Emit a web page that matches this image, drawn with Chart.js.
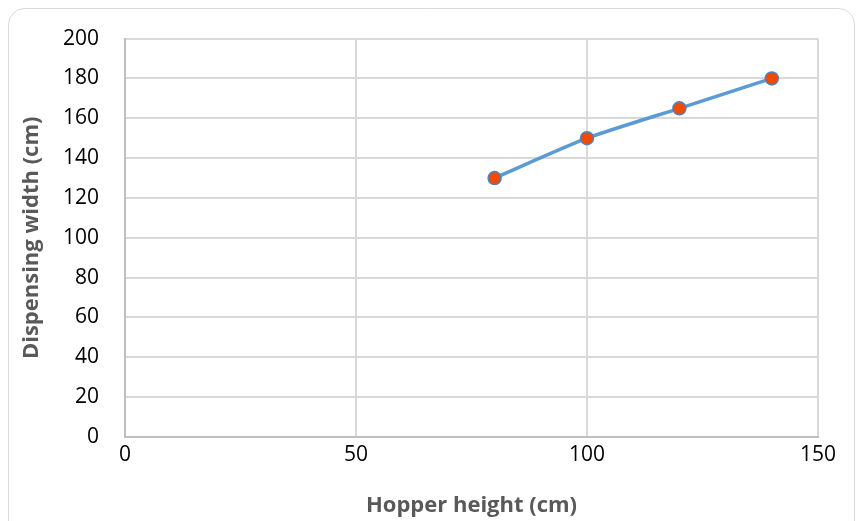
<!DOCTYPE html>
<html>
<head>
<meta charset="utf-8">
<script src="https://cdn.jsdelivr.net/npm/chart.js@4/dist/chart.umd.min.js"></script>
<style>
  html, body { margin: 0; padding: 0; background: #fff; }
  canvas { display: block; }
</style>
</head>
<body>
<canvas id="myChart" width="857" height="521"></canvas>
<script>
// data
var hopperHeights = [80, 100, 120, 140];
var dispensingWidths = [130, 150, 165, 180];
var xTitle = 'Hopper height (cm)';
var yTitle = 'Dispensing width (cm)';

var points = hopperHeights.map(function (h, i) { return { x: h, y: dispensingWidths[i] }; });

// rounded frame round the whole chart, like the Excel chart area
var frame = {
  id: 'frame',
  beforeDraw: function (chart) {
    var c = chart.ctx;
    c.save();
    c.fillStyle = '#ffffff';
    c.fillRect(0, 0, chart.width, chart.height);
    c.strokeStyle = '#D9D9D9';
    c.lineWidth = 1;
    c.beginPath();
    c.roundRect(8.5, 8.5, 846, 560, 16);
    c.stroke();
    c.restore();
  }
};

var tickFont = { family: 'Open Sans', size: 21 };
var titleFont = { family: 'Open Sans', size: 22, weight: 'bold' };

var myChart = new Chart('myChart', {
  type: 'scatter',
  data: {
    datasets: [{
      data: points,
      showLine: true,
      borderColor: '#5B9BD5',
      borderWidth: 3.5,
      tension: 0.2,
      pointRadius: 6.5,
      pointHoverRadius: 6.5,
      pointBackgroundColor: '#F24A00',
      pointBorderColor: '#4F81BD',
      pointBorderWidth: 1.5
    }]
  },
  options: {
    responsive: false,
    animation: false,
    devicePixelRatio: 1,
    layout: { padding: { left: 0, top: 38, right: 39, bottom: 0 } },
    plugins: { legend: { display: false }, tooltip: { enabled: false } },
    scales: {
      x: {
        type: 'linear', min: 0, max: 150,
        ticks: { stepSize: 50, color: '#000', font: tickFont, padding: 5 },
        grid: { color: '#D9D9D9', lineWidth: 2, drawTicks: false },
        border: { color: '#BFBFBF', width: 2 },
        title: { display: true, text: xTitle, color: '#595959', font: titleFont, padding: { top: 0, bottom: 2 } },
        afterFit: function (s) { s.height = 84; }
      },
      y: {
        min: 0, max: 200,
        ticks: { stepSize: 20, color: '#000', font: tickFont, padding: 26 },
        grid: { color: '#D9D9D9', lineWidth: 2, drawTicks: false },
        border: { color: '#BFBFBF', width: 2 },
        title: { display: true, text: yTitle, color: '#595959', font: titleFont, padding: { top: 19, bottom: 0 } },
        afterFit: function (s) { s.width = 125; }
      }
    }
  },
  plugins: [frame]
});
</script>
</body>
</html>
